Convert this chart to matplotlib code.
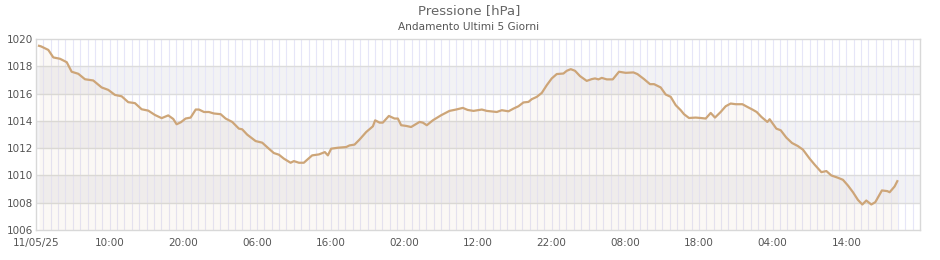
import numpy as np
import matplotlib
matplotlib.use('Agg')
import matplotlib.pyplot as plt

# Pressure readings, hours since 11/05/25 00:00
hours = [0.41, 0.68, 1.67, 2.35, 3.26, 4.17, 4.84, 5.74, 6.65, 7.77, 8.91, 9.81,
         10.72, 11.63, 12.52, 13.43, 14.34, 15.24, 16.15, 17.06, 17.95, 18.63,
         19.09, 19.67, 20.31, 20.99, 21.68, 22.12, 22.8, 23.47, 24.15, 25.06,
         25.74, 26.64, 27.54, 27.99, 28.67, 29.81, 30.71, 31.61, 32.29, 32.97,
         33.65, 34.56, 35.01, 35.69, 36.36, 36.81, 37.49, 38.4, 39.21, 39.62,
         40.07, 40.98, 42.1, 42.56, 43.24, 43.92, 44.82, 45.73, 46.04, 46.64,
         47.08, 47.9, 48.67, 49.12, 49.57, 50.24, 50.92, 52.06, 52.51, 53.05,
         53.87, 54.99, 56.13, 57.03, 57.94, 58.6, 59.39, 60.52, 61.19, 62.55,
         63.23, 64.14, 64.82, 65.49, 66.17, 66.85, 67.3, 67.98, 68.66, 69.34,
         70.01, 70.69, 71.6, 72.05, 72.59, 73.17, 73.85, 74.76, 75.44, 75.89,
         76.35, 76.8, 77.48, 78.29, 79.14, 80.05, 81.1, 81.64, 82.54, 83.35,
         83.9, 84.8, 85.48, 86.16, 86.84, 87.52, 87.96, 88.64, 89.55, 90.23,
         90.91, 91.59, 92.17, 92.94, 93.62, 94.3, 94.98, 95.89, 96.57, 97.25,
         97.83, 98.47, 99.28, 99.59, 100.5, 101.09, 101.86, 102.62, 103.43,
         104.11, 105.02, 105.7, 106.61, 107.29, 107.96, 108.86, 109.54, 110.22,
         110.9, 111.57, 112.17, 112.71, 113.39, 113.93, 114.83, 115.56, 115.88,
         116.55, 116.92]
pressure = [1019.5, 1019.46, 1019.2, 1018.65, 1018.55, 1018.3, 1017.6, 1017.45,
            1017.05, 1016.96, 1016.45, 1016.27, 1015.9, 1015.8, 1015.37, 1015.3,
            1014.85, 1014.75, 1014.43, 1014.2, 1014.4, 1014.14, 1013.75, 1013.9,
            1014.17, 1014.24, 1014.83, 1014.83, 1014.65, 1014.65, 1014.54,
            1014.49, 1014.17, 1013.92, 1013.43, 1013.38, 1012.99, 1012.52,
            1012.4, 1011.96, 1011.64, 1011.52, 1011.23, 1010.93, 1011.05,
            1010.93, 1010.93, 1011.15, 1011.47, 1011.54, 1011.71, 1011.47,
            1011.96, 1012.03, 1012.08, 1012.2, 1012.26, 1012.63, 1013.18,
            1013.6, 1014.04, 1013.87, 1013.87, 1014.36, 1014.17, 1014.17,
            1013.68, 1013.63, 1013.55, 1013.92, 1013.87, 1013.68, 1014.04,
            1014.41, 1014.73, 1014.83, 1014.95, 1014.8, 1014.73, 1014.83,
            1014.73, 1014.65, 1014.78, 1014.7, 1014.9, 1015.07, 1015.35,
            1015.39, 1015.59, 1015.76, 1016.05, 1016.62, 1017.11, 1017.43,
            1017.47, 1017.67, 1017.79, 1017.67, 1017.28, 1016.93, 1017.06,
            1017.11, 1017.04, 1017.15, 1017.04, 1017.04, 1017.6, 1017.52,
            1017.55, 1017.43, 1017.06, 1016.69, 1016.69, 1016.45, 1015.93,
            1015.76, 1015.15, 1014.78, 1014.49, 1014.21, 1014.24, 1014.21,
            1014.17, 1014.58, 1014.24, 1014.65, 1015.07, 1015.27, 1015.22,
            1015.22, 1015.02, 1014.83, 1014.65, 1014.29, 1013.92, 1014.12,
            1013.43, 1013.31, 1012.77, 1012.38, 1012.15, 1011.89, 1011.23,
            1010.79, 1010.24, 1010.32, 1010.0, 1009.83, 1009.68, 1009.26,
            1008.77, 1008.21, 1007.87, 1008.16, 1007.87, 1008.04, 1008.9,
            1008.85, 1008.77, 1009.19, 1009.58]

tick_hours = [0, 10, 20, 30, 40, 50, 60, 70, 80, 90, 100, 110]
tick_labels = ['11/05/25', '10:00', '20:00', '06:00', '16:00', '02:00',
               '12:00', '22:00', '08:00', '18:00', '04:00', '14:00']
y_ticks = [1006, 1008, 1010, 1012, 1014, 1016, 1018, 1020]

line_col = '#cda578'
txt_col = '#555555'

fig = plt.figure(figsize=(9.4, 2.6), dpi=100)
ax = fig.add_axes([36 / 940, 30 / 260, 884 / 940, 191 / 260])
ax.set_xlim(0, 120)
ax.set_ylim(1006, 1020)

# alternating horizontal bands
for lo in [1008, 1012, 1016]:
    ax.axhspan(lo, lo + 2, color='#f2f2f4', zorder=0, lw=0)

# hourly vertical grid
for h in range(1, 120):
    ax.axvline(h, color='#e6e6f8', lw=0.8, zorder=1)
for v in y_ticks[1:-1]:
    ax.axhline(v, color='#dcdcdc', lw=1, zorder=1)

ax.fill_between(hours, pressure, 1006, color=line_col, alpha=0.07, lw=0, zorder=2)
ax.plot(hours, pressure, color=line_col, lw=1.6, zorder=3, solid_joinstyle='round')

ax.set_xticks(tick_hours)
ax.set_xticklabels(tick_labels)
ax.set_yticks(y_ticks)
ax.tick_params(length=0, labelsize=7.5, colors=txt_col)
ax.tick_params(axis='x', pad=6)
ax.tick_params(axis='y', pad=2)
for s in ax.spines.values():
    s.set_color('#d8d8d8')
    s.set_linewidth(1)

fig.text(0.499, 1 - 11 / 260, 'Pressione [hPa]', ha='center', va='center',
         fontsize=9.5, color='#666666')
fig.text(0.499, 1 - 27 / 260, 'Andamento Ultimi 5 Giorni', ha='center', va='center',
         fontsize=7.6, color='#555555')

fig.savefig('out.png', dpi=100)
